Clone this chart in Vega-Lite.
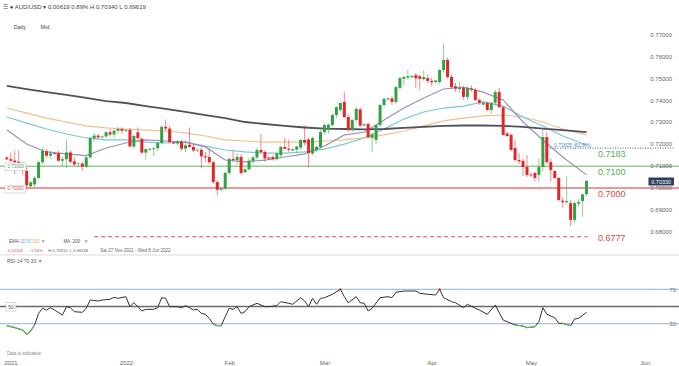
{
"$schema": "https://vega.github.io/schema/vega-lite/v6.json",
"width": 679, "height": 346,
"autosize": {"type": "none"},
"padding": {"top": 20, "left": 0, "right": 0, "bottom": 0},
"background": "#ffffff",
"title": {"text": "☰   ●  AUD/USD  ▾    0.00619   0.89%   H 0.70340   L 0.69619", "anchor": "start", "frame": "group", "fontSize": 6, "fontWeight": "normal", "color": "#444444", "offset": 10, "dx": 3, "font": "Liberation Sans"},
"config": {"view": {"stroke": null}, "text": {"font": "Liberation Sans"},
  "axis": {"grid": false, "domain": false, "ticks": false, "labelOverlap": false, "labelFlush": false, "labelFont": "Liberation Sans", "labelFontSize": 6, "labelColor": "#666666", "titleFontSize": 0.1}},
"datasets": {
"pticks": [{"v":0.68},{"v":0.69},{"v":0.70},{"v":0.71},{"v":0.72},{"v":0.73},{"v":0.74},{"v":0.75},{"v":0.76},{"v":0.77}],
"candles": [
{"j":0,"o":0.7140,"h":0.7145,"l":0.7128,"c":0.7132},{"j":1,"o":0.7132,"h":0.7162,"l":0.7118,"c":0.7125},{"j":2,"o":0.7126,"h":0.7170,"l":0.7063,"c":0.7118},{"j":3,"o":0.7120,"h":0.7172,"l":0.7080,"c":0.7105},{"j":4,"o":0.7105,"h":0.7120,"l":0.7062,"c":0.7080},
{"j":5,"o":0.7078,"h":0.7095,"l":0.6993,"c":0.7012},{"j":6,"o":0.7008,"h":0.7030,"l":0.7002,"c":0.7026},{"j":7,"o":0.7016,"h":0.7055,"l":0.7005,"c":0.7046},{"j":8,"o":0.7046,"h":0.7125,"l":0.7040,"c":0.7118},{"j":9,"o":0.7118,"h":0.7186,"l":0.7110,"c":0.7170},
{"j":10,"o":0.7168,"h":0.7178,"l":0.7140,"c":0.7148},{"j":11,"o":0.7148,"h":0.7170,"l":0.7135,"c":0.7158},{"j":12,"o":0.7160,"h":0.7165,"l":0.7152,"c":0.7157},{"j":13,"o":0.7160,"h":0.7170,"l":0.7120,"c":0.7125},{"j":14,"o":0.7125,"h":0.7145,"l":0.7100,"c":0.7132},
{"j":15,"o":0.7132,"h":0.7222,"l":0.7090,"c":0.7163},{"j":16,"o":0.7163,"h":0.7172,"l":0.7112,"c":0.7120},{"j":17,"o":0.7122,"h":0.7140,"l":0.7100,"c":0.7108},{"j":18,"o":0.7110,"h":0.7118,"l":0.7100,"c":0.7112},{"j":19,"o":0.7112,"h":0.7120,"l":0.7080,"c":0.7098},
{"j":20,"o":0.7098,"h":0.7148,"l":0.7092,"c":0.7140},{"j":21,"o":0.7140,"h":0.7235,"l":0.7135,"c":0.7228},{"j":22,"o":0.7228,"h":0.7252,"l":0.7215,"c":0.7240},{"j":23,"o":0.7240,"h":0.7248,"l":0.7225,"c":0.7232},{"j":24,"o":0.7232,"h":0.7240,"l":0.7226,"c":0.7236},
{"j":25,"o":0.7236,"h":0.7262,"l":0.7228,"c":0.7255},{"j":26,"o":0.7255,"h":0.7270,"l":0.7235,"c":0.7245},{"j":27,"o":0.7245,"h":0.7272,"l":0.7230,"c":0.7262},{"j":28,"o":0.7262,"h":0.7280,"l":0.7250,"c":0.7270},{"j":29,"o":0.7270,"h":0.7278,"l":0.7248,"c":0.7262},
{"j":30,"o":0.7262,"h":0.7270,"l":0.7255,"c":0.7266},{"j":31,"o":0.7266,"h":0.7275,"l":0.7185,"c":0.7190},{"j":32,"o":0.7190,"h":0.7245,"l":0.7180,"c":0.7238},{"j":33,"o":0.7255,"h":0.7277,"l":0.7222,"c":0.7228},{"j":34,"o":0.7225,"h":0.7232,"l":0.7155,"c":0.7162},
{"j":35,"o":0.7162,"h":0.7185,"l":0.7130,"c":0.7178},{"j":36,"o":0.7176,"h":0.7182,"l":0.7170,"c":0.7180},{"j":37,"o":0.7178,"h":0.7190,"l":0.7146,"c":0.7182},{"j":38,"o":0.7182,"h":0.7212,"l":0.7170,"c":0.7206},{"j":39,"o":0.7206,"h":0.7285,"l":0.7200,"c":0.7280},
{"j":40,"o":0.7280,"h":0.7314,"l":0.7262,"c":0.7272},{"j":41,"o":0.7272,"h":0.7285,"l":0.7205,"c":0.7210},{"j":42,"o":0.7208,"h":0.7212,"l":0.7200,"c":0.7204},{"j":43,"o":0.7204,"h":0.7220,"l":0.7195,"c":0.7213},{"j":44,"o":0.7212,"h":0.7222,"l":0.7170,"c":0.7180},
{"j":45,"o":0.7180,"h":0.7220,"l":0.7165,"c":0.7195},{"j":46,"o":0.7198,"h":0.7277,"l":0.7185,"c":0.7188},{"j":47,"o":0.7188,"h":0.7200,"l":0.7165,"c":0.7172},{"j":48,"o":0.7172,"h":0.7180,"l":0.7165,"c":0.7175},{"j":49,"o":0.7175,"h":0.7185,"l":0.7090,"c":0.7145},
{"j":50,"o":0.7145,"h":0.7165,"l":0.7120,"c":0.7140},{"j":51,"o":0.7142,"h":0.7180,"l":0.7110,"c":0.7118},{"j":52,"o":0.7118,"h":0.7125,"l":0.7020,"c":0.7027},{"j":53,"o":0.7027,"h":0.7035,"l":0.6967,"c":0.6992},{"j":54,"o":0.6992,"h":0.7002,"l":0.6985,"c":0.6998},
{"j":55,"o":0.6998,"h":0.7075,"l":0.6990,"c":0.7069},{"j":56,"o":0.7069,"h":0.7140,"l":0.7060,"c":0.7133},{"j":57,"o":0.7133,"h":0.7170,"l":0.7120,"c":0.7128},{"j":58,"o":0.7128,"h":0.7158,"l":0.7110,"c":0.7142},{"j":59,"o":0.7142,"h":0.7155,"l":0.7060,"c":0.7069},
{"j":60,"o":0.7072,"h":0.7090,"l":0.7068,"c":0.7085},{"j":61,"o":0.7085,"h":0.7140,"l":0.7080,"c":0.7125},{"j":62,"o":0.7125,"h":0.7150,"l":0.7110,"c":0.7140},{"j":63,"o":0.7140,"h":0.7185,"l":0.7130,"c":0.7174},{"j":64,"o":0.7174,"h":0.7248,"l":0.7160,"c":0.7165},
{"j":65,"o":0.7165,"h":0.7175,"l":0.7120,"c":0.7135},{"j":66,"o":0.7140,"h":0.7145,"l":0.7128,"c":0.7135},{"j":67,"o":0.7142,"h":0.7150,"l":0.7125,"c":0.7132},{"j":68,"o":0.7132,"h":0.7165,"l":0.7125,"c":0.7158},{"j":69,"o":0.7150,"h":0.7195,"l":0.7140,"c":0.7188},
{"j":70,"o":0.7188,"h":0.7230,"l":0.7175,"c":0.7180},{"j":71,"o":0.7180,"h":0.7220,"l":0.7165,"c":0.7175},{"j":72,"o":0.7172,"h":0.7182,"l":0.7168,"c":0.7178},{"j":73,"o":0.7176,"h":0.7195,"l":0.7165,"c":0.7190},{"j":74,"o":0.7185,"h":0.7225,"l":0.7175,"c":0.7220},
{"j":75,"o":0.7220,"h":0.7285,"l":0.7195,"c":0.7208},{"j":76,"o":0.7222,"h":0.7230,"l":0.7094,"c":0.7160},{"j":77,"o":0.7158,"h":0.7235,"l":0.7150,"c":0.7229},{"j":78,"o":0.7175,"h":0.7195,"l":0.7165,"c":0.7188},{"j":79,"o":0.7188,"h":0.7265,"l":0.7180,"c":0.7256},
{"j":80,"o":0.7256,"h":0.7295,"l":0.7245,"c":0.7288},{"j":81,"o":0.7265,"h":0.7295,"l":0.7250,"c":0.7290},{"j":82,"o":0.7288,"h":0.7340,"l":0.7280,"c":0.7334},{"j":83,"o":0.7334,"h":0.7375,"l":0.7320,"c":0.7370},{"j":84,"o":0.7357,"h":0.7392,"l":0.7350,"c":0.7389},
{"j":85,"o":0.7394,"h":0.7441,"l":0.7320,"c":0.7325},{"j":86,"o":0.7325,"h":0.7340,"l":0.7260,"c":0.7265},{"j":87,"o":0.7265,"h":0.7318,"l":0.7255,"c":0.7311},{"j":88,"o":0.7311,"h":0.7372,"l":0.7300,"c":0.7362},{"j":89,"o":0.7360,"h":0.7368,"l":0.7280,"c":0.7285},
{"j":90,"o":0.7287,"h":0.7296,"l":0.7282,"c":0.7292},{"j":91,"o":0.7293,"h":0.7300,"l":0.7228,"c":0.7233},{"j":92,"o":0.7230,"h":0.7252,"l":0.7166,"c":0.7245},{"j":93,"o":0.7220,"h":0.7292,"l":0.7200,"c":0.7288},{"j":94,"o":0.7288,"h":0.7385,"l":0.7280,"c":0.7380},
{"j":95,"o":0.7380,"h":0.7416,"l":0.7372,"c":0.7408},{"j":96,"o":0.7405,"h":0.7414,"l":0.7400,"c":0.7410},{"j":97,"o":0.7410,"h":0.7420,"l":0.7380,"c":0.7394},{"j":98,"o":0.7394,"h":0.7468,"l":0.7385,"c":0.7462},{"j":99,"o":0.7458,"h":0.7508,"l":0.7450,"c":0.7503},
{"j":100,"o":0.7500,"h":0.7515,"l":0.7470,"c":0.7508},{"j":101,"o":0.7505,"h":0.7540,"l":0.7495,"c":0.7512},{"j":102,"o":0.7508,"h":0.7516,"l":0.7503,"c":0.7513},{"j":103,"o":0.7517,"h":0.7525,"l":0.7458,"c":0.7502},{"j":104,"o":0.7512,"h":0.7520,"l":0.7450,"c":0.7500},
{"j":105,"o":0.7498,"h":0.7540,"l":0.7490,"c":0.7508},{"j":106,"o":0.7503,"h":0.7520,"l":0.7480,"c":0.7490},{"j":107,"o":0.7490,"h":0.7505,"l":0.7465,"c":0.7484},{"j":108,"o":0.7485,"h":0.7496,"l":0.7480,"c":0.7492},{"j":109,"o":0.7485,"h":0.7545,"l":0.7475,"c":0.7540},
{"j":110,"o":0.7540,"h":0.7661,"l":0.7530,"c":0.7586},{"j":111,"o":0.7586,"h":0.7595,"l":0.7500,"c":0.7508},{"j":112,"o":0.7508,"h":0.7520,"l":0.7455,"c":0.7462},{"j":113,"o":0.7465,"h":0.7480,"l":0.7440,"c":0.7455},{"j":114,"o":0.7453,"h":0.7485,"l":0.7435,"c":0.7458},
{"j":115,"o":0.7458,"h":0.7465,"l":0.7405,"c":0.7417},{"j":116,"o":0.7417,"h":0.7465,"l":0.7400,"c":0.7458},{"j":117,"o":0.7456,"h":0.7470,"l":0.7440,"c":0.7450},{"j":118,"o":0.7449,"h":0.7460,"l":0.7395,"c":0.7403},{"j":119,"o":0.7403,"h":0.7410,"l":0.7380,"c":0.7390},
{"j":120,"o":0.7382,"h":0.7395,"l":0.7378,"c":0.7390},{"j":121,"o":0.7390,"h":0.7395,"l":0.7350,"c":0.7357},{"j":122,"o":0.7357,"h":0.7395,"l":0.7340,"c":0.7390},{"j":123,"o":0.7390,"h":0.7450,"l":0.7380,"c":0.7439},{"j":124,"o":0.7439,"h":0.7458,"l":0.7365,"c":0.7370},
{"j":125,"o":0.7370,"h":0.7375,"l":0.7240,"c":0.7243},{"j":126,"o":0.7250,"h":0.7255,"l":0.7235,"c":0.7238},{"j":127,"o":0.7243,"h":0.7250,"l":0.7170,"c":0.7174},{"j":128,"o":0.7183,"h":0.7220,"l":0.7120,"c":0.7128},{"j":129,"o":0.7128,"h":0.7160,"l":0.7110,"c":0.7122},
{"j":130,"o":0.7124,"h":0.7135,"l":0.7055,"c":0.7096},{"j":131,"o":0.7096,"h":0.7150,"l":0.7050,"c":0.7060},{"j":132,"o":0.7062,"h":0.7068,"l":0.7050,"c":0.7058},{"j":133,"o":0.7069,"h":0.7075,"l":0.7030,"c":0.7046},{"j":134,"o":0.7060,"h":0.7135,"l":0.7030,"c":0.7096},
{"j":135,"o":0.7096,"h":0.7266,"l":0.7075,"c":0.7233},{"j":136,"o":0.7233,"h":0.7256,"l":0.7110,"c":0.7119},{"j":137,"o":0.7119,"h":0.7135,"l":0.7030,"c":0.7082},{"j":138,"o":0.7078,"h":0.7080,"l":0.7040,"c":0.7046},{"j":139,"o":0.7046,"h":0.7050,"l":0.6940,"c":0.6945},
{"j":140,"o":0.6942,"h":0.6960,"l":0.6910,"c":0.6935},{"j":141,"o":0.6935,"h":0.7053,"l":0.6925,"c":0.6940},{"j":142,"o":0.6931,"h":0.6945,"l":0.6827,"c":0.6854},{"j":143,"o":0.6854,"h":0.6940,"l":0.6840,"c":0.6931},{"j":144,"o":0.6928,"h":0.6950,"l":0.6915,"c":0.6935},
{"j":145,"o":0.6940,"h":0.6975,"l":0.6868,"c":0.6971},{"j":146,"o":0.6972,"h":0.7034,"l":0.6962,"c":0.7033}
],
"ma": [
{"j":0,"e20":0.7265,"e50":0.7325,"e100":0.7366,"m200":0.7467},{"j":5,"e20":0.7201,"e50":0.7297,"e100":0.7343,"m200":0.7453},{"j":10,"e20":0.7165,"e50":0.7270,"e100":0.7320,"m200":0.7439},{"j":15,"e20":0.7156,"e50":0.7247,"e100":0.7302,"m200":0.7426},
{"j":20,"e20":0.7148,"e50":0.7229,"e100":0.7284,"m200":0.7412},{"j":25,"e20":0.7183,"e50":0.7220,"e100":0.7275,"m200":0.7398},{"j":30,"e20":0.7206,"e50":0.7220,"e100":0.7270,"m200":0.7389},{"j":35,"e20":0.7220,"e50":0.7210,"e100":0.7265,"m200":0.7375},
{"j":40,"e20":0.7215,"e50":0.7206,"e100":0.7261,"m200":0.7362},{"j":45,"e20":0.7210,"e50":0.7210,"e100":0.7252,"m200":0.7348},{"j":50,"e20":0.7188,"e50":0.7192,"e100":0.7238,"m200":0.7334},{"j":55,"e20":0.7128,"e50":0.7174,"e100":0.7220,"m200":0.7320},
{"j":60,"e20":0.7120,"e50":0.7165,"e100":0.7215,"m200":0.7302},{"j":65,"e20":0.7128,"e50":0.7160,"e100":0.7210,"m200":0.7293},{"j":70,"e20":0.7142,"e50":0.7160,"e100":0.7210,"m200":0.7284},{"j":75,"e20":0.7156,"e50":0.7165,"e100":0.7210,"m200":0.7277},
{"j":80,"e20":0.7192,"e50":0.7178,"e100":0.7215,"m200":0.7272},{"j":85,"e20":0.7243,"e50":0.7201,"e100":0.7220,"m200":0.7270},{"j":90,"e20":0.7255,"e50":0.7229,"e100":0.7229,"m200":0.7268},{"j":95,"e20":0.7311,"e50":0.7270,"e100":0.7243,"m200":0.7270},
{"j":100,"e20":0.7366,"e50":0.7316,"e100":0.7261,"m200":0.7275},{"j":105,"e20":0.7412,"e50":0.7348,"e100":0.7284,"m200":0.7280},{"j":110,"e20":0.7453,"e50":0.7366,"e100":0.7307,"m200":0.7284},{"j":115,"e20":0.7462,"e50":0.7375,"e100":0.7320,"m200":0.7286},
{"j":120,"e20":0.7439,"e50":0.7394,"e100":0.7330,"m200":0.7286},{"j":125,"e20":0.7403,"e50":0.7375,"e100":0.7334,"m200":0.7284},{"j":130,"e20":0.7302,"e50":0.7325,"e100":0.7325,"m200":0.7280},{"j":135,"e20":0.7220,"e50":0.7284,"e100":0.7302,"m200":0.7272},
{"j":140,"e20":0.7142,"e50":0.7238,"e100":0.7270,"m200":0.7265},{"j":146,"e20":0.7060,"e50":0.7197,"e100":0.7243,"m200":0.7256}
],
"rsi": [
{"j":0,"rsi":27.7,"seg":"a"},{"j":2,"rsi":25.4,"seg":"a"},{"j":4,"rsi":22.7,"seg":"a"},{"j":5,"rsi":17.7,"seg":"a"},{"j":6,"rsi":21.5,"seg":"a"},{"j":7,"rsi":28.5,"seg":"a"},
{"j":8,"rsi":42},{"j":9,"rsi":47.9},{"j":10,"rsi":45.9},{"j":11,"rsi":48.6},{"j":12,"rsi":46},{"j":14,"rsi":40},{"j":15,"rsi":49.8},{"j":16,"rsi":48.6},{"j":17,"rsi":44},{"j":19,"rsi":43.2},
{"j":20,"rsi":47.9},{"j":21,"rsi":57.5},{"j":23,"rsi":56.4},{"j":24,"rsi":57.5},{"j":26,"rsi":58.4},{"j":27,"rsi":60.7},{"j":28,"rsi":59.5},{"j":30,"rsi":61.4},{"j":31,"rsi":49.8},{"j":32,"rsi":54.4},
{"j":33,"rsi":49.8},{"j":34,"rsi":44.8},{"j":35,"rsi":46.7},{"j":37,"rsi":46.7},{"j":38,"rsi":48.6},{"j":39,"rsi":60.2},{"j":40,"rsi":59.5},{"j":41,"rsi":49.8},{"j":43,"rsi":49.8},{"j":44,"rsi":48.6},
{"j":45,"rsi":51},{"j":46,"rsi":48.6},{"j":47,"rsi":46},{"j":48,"rsi":46.7},{"j":49,"rsi":42},{"j":50,"rsi":40.9},{"j":51,"rsi":36.3},
{"j":52,"rsi":29.3,"seg":"b"},{"j":53,"rsi":27.7,"seg":"b"},{"j":54,"rsi":27.7,"seg":"b"},
{"j":55,"rsi":38.1},{"j":56,"rsi":47.9},{"j":57,"rsi":46.7},{"j":58,"rsi":49.8},{"j":59,"rsi":42},{"j":60,"rsi":44},{"j":61,"rsi":49.8},{"j":63,"rsi":53.7},{"j":65,"rsi":49.8},{"j":66,"rsi":49.8},
{"j":68,"rsi":51},{"j":69,"rsi":55.6},{"j":71,"rsi":53.7},{"j":72,"rsi":52.6},{"j":74,"rsi":60.2},{"j":75,"rsi":56.4},{"j":76,"rsi":49.8},{"j":77,"rsi":59.5},{"j":78,"rsi":52.6},{"j":79,"rsi":59.5},
{"j":80,"rsi":60.2},{"j":82,"rsi":64.2},{"j":84,"rsi":70},{"j":85,"rsi":61.4},{"j":86,"rsi":54.4},{"j":88,"rsi":61.4},{"j":89,"rsi":54.4},{"j":90,"rsi":53.7},{"j":91,"rsi":44.8},{"j":92,"rsi":47.9},
{"j":94,"rsi":60.2},{"j":96,"rsi":61.4},{"j":97,"rsi":60.2},{"j":98,"rsi":66.5},{"j":100,"rsi":68},{"j":103,"rsi":68},{"j":104,"rsi":65.3},{"j":106,"rsi":64.2},{"j":108,"rsi":63.4},{"j":109,"rsi":70},
{"j":110,"rsi":60.2},{"j":112,"rsi":55.6},{"j":113,"rsi":54.4},{"j":115,"rsi":48.6},{"j":116,"rsi":52.6},{"j":118,"rsi":47.9},{"j":119,"rsi":45.9},{"j":121,"rsi":40.9},{"j":123,"rsi":51.7},{"j":125,"rsi":34.3},
{"j":126,"rsi":32.3},{"j":128,"rsi":28.5,"seg":"c"},{"j":130,"rsi":27.3,"seg":"c"},{"j":131,"rsi":25.4,"seg":"c"},{"j":133,"rsi":26.5,"seg":"c"},{"j":134,"rsi":32.3},{"j":135,"rsi":48.6},{"j":136,"rsi":40.9},{"j":138,"rsi":37},
{"j":139,"rsi":30.4},{"j":140,"rsi":30.4,"seg":"d"},{"j":142,"rsi":27.7,"seg":"d"},{"j":143,"rsi":35.5},{"j":144,"rsi":36.3},{"j":146,"rsi":43.2}
]
},
"layer": [
{
"layer": [
{"data": {"values": [{}]},
 "layer": [
  {"mark": {"type": "rule", "color": "#dadada", "strokeWidth": 1}, "encoding": {"y": {"datum": 0.66934, "type": "quantitative", "axis": null}}},
  {"mark": {"type": "rule", "color": "#e87575", "strokeWidth": 1.5}, "encoding": {"y": {"datum": 0.70, "type": "quantitative", "axis": null}}},
  {"mark": {"type": "rule", "color": "#92cf92", "strokeWidth": 1.5}, "encoding": {"y": {"datum": 0.71, "type": "quantitative", "axis": null}}},
  {"mark": {"type": "rule", "color": "#4a86c8", "strokeWidth": 1.2, "strokeDash": [1, 1.5]}, "encoding": {"x": {"datum": 136.8, "type": "quantitative"}, "x2": {"datum": 168.03}, "y": {"datum": 0.71825, "type": "quantitative", "axis": null}}},
  {"mark": {"type": "rule", "color": "#e8474c", "strokeWidth": 1.2, "strokeDash": [4, 3]}, "encoding": {"x": {"datum": 22, "type": "quantitative"}, "x2": {"datum": 146.3}, "y": {"datum": 0.6777, "type": "quantitative", "axis": null}}}
 ]
},
{"data": {"name": "ma"}, "mark": {"type": "line", "color": "#eec28a", "strokeWidth": 1.2}, "encoding": {"x": {"field": "j", "type": "quantitative"}, "y": {"field": "e100", "type": "quantitative", "axis": null}}},
{"data": {"name": "ma"}, "mark": {"type": "line", "color": "#7cc6d3", "strokeWidth": 1.2}, "encoding": {"x": {"field": "j", "type": "quantitative"}, "y": {"field": "e50", "type": "quantitative", "axis": null}}},
{"data": {"name": "ma"}, "mark": {"type": "line", "color": "#9a90bd", "strokeWidth": 1.2}, "encoding": {"x": {"field": "j", "type": "quantitative"}, "y": {"field": "e20", "type": "quantitative", "axis": null}}},
{"data": {"name": "ma"}, "mark": {"type": "line", "color": "#50505f", "strokeWidth": 1.8}, "encoding": {"x": {"field": "j", "type": "quantitative"}, "y": {"field": "m200", "type": "quantitative", "axis": null}}},
{"data": {"name": "candles"}, "mark": {"type": "rule", "strokeWidth": 1, "opacity": 0.55}, "encoding": {"x": {"field": "j", "type": "quantitative"}, "y": {"field": "l", "type": "quantitative", "axis": null}, "y2": {"field": "h"}, "color": {"condition": {"test": "datum.c >= datum.o", "value": "#35a043"}, "value": "#e4242b"}}},
{"data": {"name": "candles"}, "mark": {"type": "bar", "size": 3}, "encoding": {
  "x": {"field": "j", "type": "quantitative", "scale": {"domain": [-0.46, 168.03], "nice": false, "zero": false}},
  "y": {"field": "o", "type": "quantitative", "scale": {"domain": [0.67071, 0.77689], "range": [232, 0], "nice": false, "zero": false}, "axis": null},
  "y2": {"field": "c"},
  "color": {"condition": {"test": "datum.c >= datum.o", "value": "#35a043"}, "value": "#e4242b"}}},
{"data": {"name": "pticks"}, "mark": {"type": "text", "align": "left", "baseline": "middle", "fontSize": 6, "color": "#666666"}, "encoding": {"x": {"datum": 162.07, "type": "quantitative"}, "y": {"field": "v", "type": "quantitative", "axis": null}, "text": {"field": "v", "type": "quantitative", "format": ".5f"}}},
{"data": {"values": [{}]},
 "layer": [
  {"mark": {"type": "text", "text": "Daily", "align": "left", "baseline": "middle", "fontSize": 5.5, "color": "#444444"}, "encoding": {"x": {"datum": 1.77, "type": "quantitative"}, "y": {"datum": 0.7737, "type": "quantitative", "axis": null}}},
  {"mark": {"type": "text", "text": "Mid", "align": "left", "baseline": "middle", "fontSize": 5.5, "color": "#444444"}, "encoding": {"x": {"datum": 8.47, "type": "quantitative"}, "y": {"datum": 0.7737, "type": "quantitative", "axis": null}}},
  {"mark": {"type": "text", "text": "0.7183", "align": "left", "baseline": "middle", "fontSize": 9, "color": "#4cae50", "dy": 6}, "encoding": {"x": {"datum": 148.9, "type": "quantitative"}, "y": {"datum": 0.7183, "type": "quantitative", "axis": null}}},
  {"mark": {"type": "text", "text": "0.7100", "align": "left", "baseline": "middle", "fontSize": 9, "color": "#4cae50", "dy": 5.5}, "encoding": {"x": {"datum": 148.9, "type": "quantitative"}, "y": {"datum": 0.71, "type": "quantitative", "axis": null}}},
  {"mark": {"type": "text", "text": "0.7000", "align": "left", "baseline": "middle", "fontSize": 9, "color": "#e2454a", "dy": 5.5}, "encoding": {"x": {"datum": 148.9, "type": "quantitative"}, "y": {"datum": 0.70, "type": "quantitative", "axis": null}}},
  {"mark": {"type": "text", "text": "0.6777", "align": "left", "baseline": "middle", "fontSize": 9, "color": "#e2454a", "dy": 1.5}, "encoding": {"x": {"datum": 148.9, "type": "quantitative"}, "y": {"datum": 0.6777, "type": "quantitative", "axis": null}}},
  {"mark": {"type": "text", "text": "0.71825 (61.8%)", "align": "left", "baseline": "middle", "fontSize": 5, "color": "#4a86c8", "dy": -3.5}, "encoding": {"x": {"datum": 137.8, "type": "quantitative"}, "y": {"datum": 0.71825, "type": "quantitative", "axis": null}}},
  {"mark": {"type": "rect", "fill": "#ffffff", "stroke": "#c8c8c8", "strokeWidth": 0.6}, "encoding": {"x": {"datum": -0.46, "type": "quantitative"}, "x2": {"datum": 4.75}, "y": {"datum": 0.71144, "type": "quantitative", "axis": null}, "y2": {"datum": 0.70801}}},
  {"mark": {"type": "text", "text": "0.71000", "align": "left", "baseline": "middle", "fontSize": 4.5, "color": "#5e9a5e"}, "encoding": {"x": {"datum": 0.16, "type": "quantitative"}, "y": {"datum": 0.70975, "type": "quantitative", "axis": null}}},
  {"mark": {"type": "rect", "fill": "#ffffff", "stroke": "#c8c8c8", "strokeWidth": 0.6}, "encoding": {"x": {"datum": -0.46, "type": "quantitative"}, "x2": {"datum": 4.75}, "y": {"datum": 0.70114, "type": "quantitative", "axis": null}, "y2": {"datum": 0.69771}}},
  {"mark": {"type": "text", "text": "0.70000", "align": "left", "baseline": "middle", "fontSize": 4.5, "color": "#d9534f"}, "encoding": {"x": {"datum": 0.16, "type": "quantitative"}, "y": {"datum": 0.69941, "type": "quantitative", "axis": null}}},
  {"mark": {"type": "rect", "fill": "#2c3e5c"}, "encoding": {"x": {"datum": 161.6, "type": "quantitative"}, "x2": {"datum": 168.03}, "y": {"datum": 0.70481, "type": "quantitative", "axis": null}, "y2": {"datum": 0.70114}}},
  {"mark": {"type": "text", "text": "0.70330", "align": "center", "baseline": "middle", "fontSize": 5.5, "color": "#ffffff"}, "encoding": {"x": {"datum": 164.8, "type": "quantitative"}, "y": {"datum": 0.70297, "type": "quantitative", "axis": null}}},
  {"mark": {"type": "text", "text": "EMA", "align": "left", "baseline": "middle", "fontSize": 4.5, "color": "#555555"}, "encoding": {"x": {"datum": 0.53, "type": "quantitative"}, "y": {"datum": 0.67542, "type": "quantitative", "axis": null}}},
  {"mark": {"type": "text", "text": "20", "align": "left", "baseline": "middle", "fontSize": 4.5, "color": "#9a90bd"}, "encoding": {"x": {"datum": 3.39, "type": "quantitative"}, "y": {"datum": 0.67542, "type": "quantitative", "axis": null}}},
  {"mark": {"type": "text", "text": "50", "align": "left", "baseline": "middle", "fontSize": 4.5, "color": "#5bbcd0"}, "encoding": {"x": {"datum": 4.88, "type": "quantitative"}, "y": {"datum": 0.67542, "type": "quantitative", "axis": null}}},
  {"mark": {"type": "text", "text": "100", "align": "left", "baseline": "middle", "fontSize": 4.5, "color": "#e6a55a"}, "encoding": {"x": {"datum": 6.36, "type": "quantitative"}, "y": {"datum": 0.67542, "type": "quantitative", "axis": null}}},
  {"mark": {"type": "text", "text": "✕", "align": "left", "baseline": "middle", "fontSize": 4.5, "color": "#777777"}, "encoding": {"x": {"datum": 8.6, "type": "quantitative"}, "y": {"datum": 0.67542, "type": "quantitative", "axis": null}}},
  {"mark": {"type": "text", "text": "MA", "align": "left", "baseline": "middle", "fontSize": 4.5, "color": "#555555"}, "encoding": {"x": {"datum": 14.3, "type": "quantitative"}, "y": {"datum": 0.67542, "type": "quantitative", "axis": null}}},
  {"mark": {"type": "text", "text": "200", "align": "left", "baseline": "middle", "fontSize": 4.5, "color": "#50505f"}, "encoding": {"x": {"datum": 16.54, "type": "quantitative"}, "y": {"datum": 0.67542, "type": "quantitative", "axis": null}}},
  {"mark": {"type": "text", "text": "✕", "align": "left", "baseline": "middle", "fontSize": 4.5, "color": "#777777"}, "encoding": {"x": {"datum": 19.39, "type": "quantitative"}, "y": {"datum": 0.67542, "type": "quantitative", "axis": null}}},
  {"mark": {"type": "text", "text": "-0.01103", "align": "left", "baseline": "middle", "fontSize": 4.2, "color": "#e2454a"}, "encoding": {"x": {"datum": -0.04, "type": "quantitative"}, "y": {"datum": 0.67117, "type": "quantitative", "axis": null}}},
  {"mark": {"type": "text", "text": "-1.54%", "align": "left", "baseline": "middle", "fontSize": 4.2, "color": "#e2454a"}, "encoding": {"x": {"datum": 5.74, "type": "quantitative"}, "y": {"datum": 0.67117, "type": "quantitative", "axis": null}}},
  {"mark": {"type": "text", "text": "H 0.76612", "align": "left", "baseline": "middle", "fontSize": 4.2, "color": "#666666"}, "encoding": {"x": {"datum": 10.46, "type": "quantitative"}, "y": {"datum": 0.67117, "type": "quantitative", "axis": null}}},
  {"mark": {"type": "text", "text": "L 0.68268", "align": "left", "baseline": "middle", "fontSize": 4.2, "color": "#666666"}, "encoding": {"x": {"datum": 15.8, "type": "quantitative"}, "y": {"datum": 0.67117, "type": "quantitative", "axis": null}}},
  {"mark": {"type": "text", "text": "Sat 27 Nov 2021 - Wed 8 Jun 2022", "align": "left", "baseline": "middle", "fontSize": 4.5, "color": "#666666"}, "encoding": {"x": {"datum": 23.54, "type": "quantitative"}, "y": {"datum": 0.67117, "type": "quantitative", "axis": null}}}
 ]
}
]
},
{
"layer": [
{"data": {"values": [{}]},
 "layer": [
  {"mark": {"type": "rule", "color": "#8fb0d8", "strokeWidth": 1}, "encoding": {"y": {"datum": 70, "type": "quantitative"}}},
  {"mark": {"type": "rule", "color": "#a5c4e6", "strokeWidth": 1.2}, "encoding": {"y": {"datum": 30, "type": "quantitative"}}},
  {"mark": {"type": "rule", "color": "#6b6b6b", "strokeWidth": 1.6}, "encoding": {"y": {"datum": 50, "type": "quantitative"}}},
  {"mark": {"type": "rect", "fill": "#ffffff", "stroke": "#bbbbbb", "strokeWidth": 0.6}, "encoding": {"x": {"datum": -0.21, "type": "quantitative"}, "x2": {"datum": 2.27}, "y": {"datum": 54.6, "type": "quantitative"}, "y2": {"datum": 44.8}}},
  {"mark": {"type": "text", "text": "50", "align": "center", "baseline": "middle", "fontSize": 5, "color": "#555555"}, "encoding": {"x": {"datum": 1.03, "type": "quantitative"}, "y": {"datum": 49.8, "type": "quantitative"}}},
  {"mark": {"type": "text", "text": "RSI  14  70  30  ✕", "align": "left", "baseline": "middle", "fontSize": 5, "color": "#555555"}, "encoding": {"x": {"datum": 0.04, "type": "quantitative"}, "y": {"datum": 102.9, "type": "quantitative"}}},
  {"mark": {"type": "text", "text": "Data is indicative", "align": "left", "baseline": "middle", "fontSize": 4.5, "color": "#888888"}, "encoding": {"x": {"datum": 0.04, "type": "quantitative"}, "y": {"datum": -5.2, "type": "quantitative"}}}
 ]
},
{"data": {"name": "rsi"}, "mark": {"type": "line", "color": "#333333", "strokeWidth": 1}, "encoding": {
  "x": {"field": "j", "type": "quantitative",
        "axis": {"orient": "bottom", "offset": -7, "values": [0.9, 30, 56, 80, 107, 132, 160.7], "labelExpr": "datum.value < 5 ? '2021' : datum.value < 40 ? '2022' : datum.value < 60 ? 'Feb' : datum.value < 90 ? 'Mar' : datum.value < 120 ? 'Apr' : datum.value < 140 ? 'May' : 'Jun'", "labelPadding": 0, "labelOverlap": false, "title": null}},
  "y": {"field": "rsi", "type": "quantitative", "scale": {"domain": [-0.58, 106.4], "range": [330, 238], "nice": false, "zero": false},
        "axis": {"orient": "right", "offset": -12, "values": [30, 70], "format": "d", "labelPadding": 2, "labelAlign": "left", "labelBaseline": "middle", "labelOverlap": false, "title": null}}}},
{"data": {"name": "rsi"}, "transform": [{"filter": "isValid(datum.seg)"}], "mark": {"type": "line", "color": "#5cb85c", "strokeWidth": 1.2}, "encoding": {"x": {"field": "j", "type": "quantitative"}, "y": {"field": "rsi", "type": "quantitative"}, "detail": {"field": "seg"}}},
{"data": {"name": "rsi"}, "transform": [{"filter": "datum.rsi >= 70"}], "mark": {"type": "point", "filled": true, "color": "#e4242b", "size": 5, "opacity": 1}, "encoding": {"x": {"field": "j", "type": "quantitative"}, "y": {"field": "rsi", "type": "quantitative"}}}
]
}
],
"resolve": {"scale": {"y": "independent"}, "axis": {"y": "independent"}}
}
